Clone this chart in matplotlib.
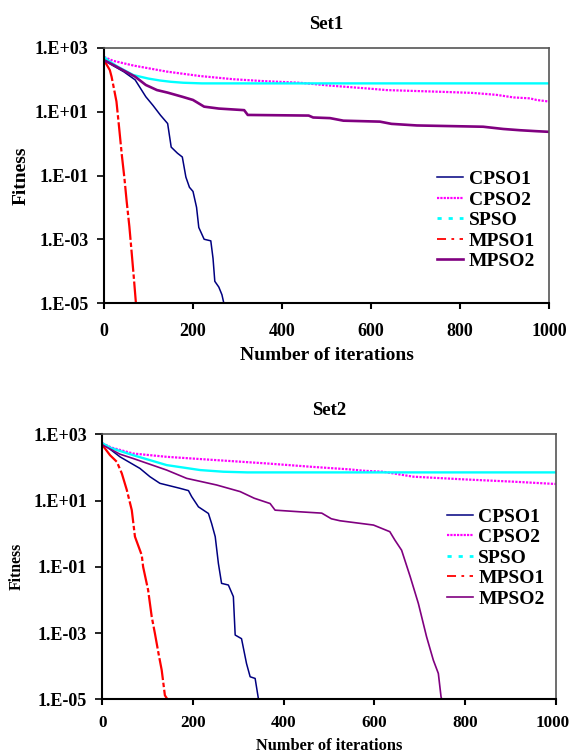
import numpy as np
import matplotlib
matplotlib.use("Agg")
import matplotlib.pyplot as plt
import matplotlib.transforms as mtransforms
from matplotlib.lines import Line2D

plt.rcParams['font.family'] = ['Liberation Serif', 'DejaVu Serif']
plt.rcParams['font.weight'] = 'bold'

series_names = ["CPSO1", "CPSO2", "SPSO", "MPSO1", "MPSO2"]
x_ticks = [0, 200, 400, 600, 800, 1000]
y_ticks = [1e3, 1e1, 1e-1, 1e-3, 1e-5]
y_tick_labels = ["1.E+03", "1.E+01", "1.E-01", "1.E-03", "1.E-05"]

# Set1 -- iteration / log10(fitness)
s1_cpso1_it = [0, 20, 45, 70, 94, 110, 127, 143, 151, 165, 176, 184, 192, 200, 208, 213, 225, 240, 245, 249, 258, 265, 270]
s1_cpso1_lg = [2.62, 2.45, 2.25, 2.0, 1.47, 1.2, 0.89, 0.63, -0.11, -0.3, -0.42, -1.05, -1.37, -1.5, -2.0, -2.63, -3.0, -3.05, -3.6, -4.32, -4.5, -4.74, -5.05]
s1_cpso2_it = [0, 20, 66, 141, 216, 291, 360, 440, 470, 508, 583, 635, 680, 770, 830, 882, 920, 957, 972, 1000]
s1_cpso2_lg = [2.72, 2.6, 2.45, 2.26, 2.12, 2.02, 1.96, 1.91, 1.87, 1.82, 1.74, 1.68, 1.66, 1.62, 1.59, 1.53, 1.45, 1.42, 1.37, 1.32]
s1_spso_it = [0, 10, 30, 66, 100, 126, 150, 178, 220, 300, 500, 1000]
s1_spso_lg = [2.72, 2.6, 2.42, 2.15, 2.04, 1.98, 1.94, 1.91, 1.89, 1.89, 1.89, 1.89]
s1_mpso1_it = [0, 5, 13, 17, 22, 28, 34, 40, 46, 51, 57, 62, 67, 72]
s1_mpso1_lg = [2.6, 2.5, 2.31, 2.1, 1.75, 1.32, 0.5, -0.35, -1.1, -1.82, -2.6, -3.39, -4.2, -5.05]
s1_mpso2_it = [0, 30, 70, 94, 119, 143, 176, 200, 225, 258, 315, 323, 460, 470, 508, 538, 620, 646, 703, 852, 897, 935, 972, 1000]
s1_mpso2_lg = [2.62, 2.4, 2.1, 1.84, 1.68, 1.6, 1.47, 1.37, 1.16, 1.1, 1.05, 0.9, 0.88, 0.82, 0.80, 0.72, 0.69, 0.62, 0.57, 0.53, 0.46, 0.42, 0.39, 0.37]

# Set2
s2_cpso1_it = [0, 39, 83, 105, 127, 171, 190, 197, 212, 234, 241, 249, 256, 263, 278, 289, 293, 307, 318, 326, 337, 345]
s2_cpso1_lg = [2.73, 2.32, 1.97, 1.72, 1.52, 1.37, 1.30, 1.12, 0.81, 0.61, 0.31, -0.09, -0.90, -1.50, -1.55, -1.90, -3.06, -3.17, -3.92, -4.32, -4.37, -5.05]
s2_cpso2_it = [0, 20, 68, 142, 252, 363, 460, 546, 576, 619, 686, 796, 906, 1000]
s2_cpso2_lg = [2.73, 2.6, 2.42, 2.32, 2.22, 2.12, 2.02, 1.94, 1.90, 1.87, 1.72, 1.64, 1.57, 1.50]
s2_spso_it = [0, 20, 68, 142, 216, 267, 320, 1000]
s2_spso_lg = [2.73, 2.58, 2.37, 2.07, 1.92, 1.87, 1.85, 1.85]
s2_mpso1_it = [0, 17, 32, 43, 54, 65, 72, 87, 90, 101, 109, 116, 124, 131, 138, 146]
s2_mpso1_lg = [2.68, 2.37, 2.17, 1.82, 1.32, 0.71, -0.09, -0.65, -1.0, -1.7, -2.51, -3.01, -3.62, -4.12, -4.88, -5.05]
s2_mpso2_it = [0, 39, 68, 142, 186, 252, 304, 335, 370, 381, 436, 484, 505, 524, 598, 634, 645, 660, 679, 697, 715, 730, 741, 747, 750]
s2_mpso2_lg = [2.68, 2.4, 2.27, 1.92, 1.67, 1.47, 1.27, 1.07, 0.91, 0.71, 0.66, 0.62, 0.45, 0.39, 0.26, 0.06, -0.19, -0.5, -1.3, -2.11, -3.11, -3.82, -4.22, -4.93, -5.05]

set1 = [(s1_cpso1_it, s1_cpso1_lg), (s1_cpso2_it, s1_cpso2_lg), (s1_spso_it, s1_spso_lg),
        (s1_mpso1_it, s1_mpso1_lg), (s1_mpso2_it, s1_mpso2_lg)]
set2 = [(s2_cpso1_it, s2_cpso1_lg), (s2_cpso2_it, s2_cpso2_lg), (s2_spso_it, s2_spso_lg),
        (s2_mpso1_it, s2_mpso1_lg), (s2_mpso2_it, s2_mpso2_lg)]

colors = ['#000080', '#ff00ff', '#00ffff', '#ff0000', '#800080']
# styles used on the curves
line_styles = ['-', (0, (1, 0.6)), '-', (0, (10, 1.2, 2, 1.2)), '-']
# styles shown in the legend
legend_styles = ['-', (0, (1, 0.5)), (0, (1.5, 2.5)), (0, (5, 3, 1.5, 3)), '-']


def draw_panel(ax, data, title, title_pad, lw_mpso2, fs_label, xlabel_y, ylabel_xy, tick_pad_x, xtick_size, legend_anchor):
    for i, (it, lg) in enumerate(data):
        lw = [1.1, 1.6, 1.7, 1.6, lw_mpso2][i]
        ax.plot(it, np.power(10.0, lg), color=colors[i], linestyle=line_styles[i], lw=lw)
    ax.set_yscale('log')
    ax.set_xlim(0, 1000)
    ax.set_ylim(1e-5, 1e3)
    ax.set_xticks(x_ticks)
    ax.set_xticklabels([str(t) for t in x_ticks])
    ax.set_yticks(y_ticks)
    ax.set_yticklabels(y_tick_labels)
    ax.minorticks_off()
    ax.tick_params(axis='x', direction='out', length=4.5, width=1.5, pad=tick_pad_x, labelsize=xtick_size)
    ax.tick_params(axis='y', direction='out', length=5, width=1.2, pad=6, labelsize=13)
    for s in ['left', 'bottom']:
        ax.spines[s].set_color('black')
        ax.spines[s].set_linewidth(1.5)
    for s in ['top', 'right']:
        ax.spines[s].set_color('#555555')
        ax.spines[s].set_linewidth(1.2)
    ax.set_title(title, fontsize=13.5, fontweight='bold', pad=title_pad)
    ax.set_xlabel("Number of iterations", fontsize=fs_label[0], fontweight='bold')
    ax.xaxis.set_label_coords(0.5, xlabel_y)
    ax.set_ylabel("Fitness", fontsize=fs_label[1], fontweight='bold')
    ax.yaxis.set_label_coords(*ylabel_xy)
    handles = []
    for i in range(5):
        lw = [1.1, 1.6, 2.0, 1.3, lw_mpso2][i]
        handles.append(Line2D([], [], color=colors[i], linestyle=legend_styles[i], lw=lw))
    ax.legend(handles, series_names, loc='upper left', bbox_to_anchor=legend_anchor,
              frameon=False, fontsize=14, handlelength=1.35, handletextpad=0.28,
              labelspacing=0.15, borderpad=0, borderaxespad=0)


fig = plt.figure(figsize=(5.71, 7.54), dpi=100)
ax1 = fig.add_axes([104 / 571, 1 - 303 / 754, 445 / 571, 255 / 754])
ax2 = fig.add_axes([102.3 / 571, 1 - 699.3 / 754, 453.5 / 571, 265 / 754])

draw_panel(ax1, set1, "Set1", 14, 1.9, (14, 14), -0.173, (-0.168, 0.5), 10, 13, (0.748, 0.52))
draw_panel(ax2, set2, "Set2", 14, 1.2, (11.8, 11.3), -0.146, (-0.172, 0.5), 7, 12.3, (0.759, 0.722))

# keep the last "1000" inside the figure edge
last = ax2.get_xticklabels()[-1]
last.set_transform(last.get_transform() + mtransforms.ScaledTranslation(-2.5 / 72, 0, fig.dpi_scale_trans))

fig.savefig("out.png", dpi=100)
